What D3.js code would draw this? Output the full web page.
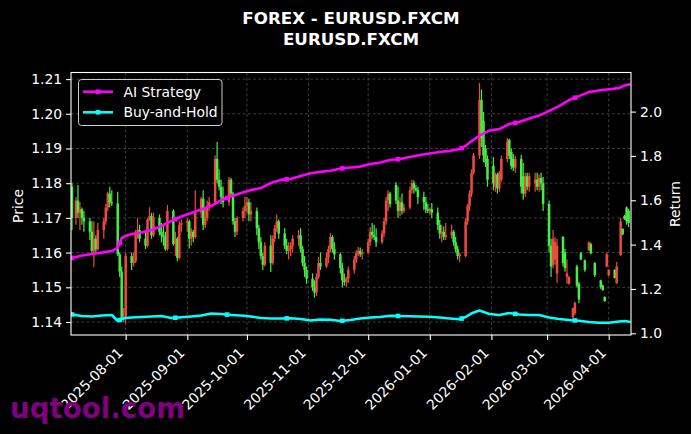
<!DOCTYPE html>
<html><head><meta charset="utf-8">
<script src="https://cdn.jsdelivr.net/npm/d3@7/dist/d3.min.js"></script>
<style>html,body{margin:0;padding:0;background:#000;}svg{display:block;}</style>
</head><body>
<svg id="c" width="691" height="434"></svg>
<script>
// ---------------- DATA ----------------
const titleLines = ["FOREX - EURUSD.FXCM", "EURUSD.FXCM"];
const seriesNames = ["AI Strategy", "Buy-and-Hold"];
const xTickLabels = ["2025-08-01","2025-09-01","2025-10-01","2025-11-01","2025-12-01","2026-01-01","2026-02-01","2026-03-01","2026-04-01"];
const priceTicks = [1.14,1.15,1.16,1.17,1.18,1.19,1.20,1.21];
const returnTicks = [1.0,1.2,1.4,1.6,1.8,2.0];

const candleDates = [
"2025-07-05",
"2025-07-07","2025-07-08","2025-07-09","2025-07-10","2025-07-11",
"2025-07-14","2025-07-15","2025-07-16","2025-07-17","2025-07-18",
"2025-07-21","2025-07-22","2025-07-23","2025-07-24","2025-07-25",
"2025-07-28","2025-07-29","2025-07-30","2025-07-31","2025-08-01",
"2025-08-04","2025-08-05","2025-08-06","2025-08-07","2025-08-08",
"2025-08-11","2025-08-12","2025-08-13","2025-08-14","2025-08-15",
"2025-08-18","2025-08-19","2025-08-20","2025-08-21","2025-08-22",
"2025-08-25","2025-08-26","2025-08-27","2025-08-28","2025-08-29",
"2025-09-01","2025-09-02","2025-09-03","2025-09-04","2025-09-05",
"2025-09-08","2025-09-09","2025-09-10","2025-09-11","2025-09-12",
"2025-09-15","2025-09-16","2025-09-17","2025-09-18","2025-09-19",
"2025-09-22","2025-09-23","2025-09-24","2025-09-25","2025-09-26",
"2025-09-29","2025-09-30","2025-10-01","2025-10-02","2025-10-03",
"2025-10-06","2025-10-07","2025-10-08","2025-10-09","2025-10-10",
"2025-10-13","2025-10-14","2025-10-15","2025-10-16","2025-10-17",
"2025-10-20","2025-10-21","2025-10-22","2025-10-23","2025-10-24",
"2025-10-27","2025-10-28","2025-10-29","2025-10-30","2025-10-31",
"2025-11-03","2025-11-04","2025-11-05","2025-11-06","2025-11-07",
"2025-11-10","2025-11-11","2025-11-12","2025-11-13","2025-11-14",
"2025-11-17","2025-11-18","2025-11-19","2025-11-20","2025-11-21",
"2025-11-24","2025-11-25","2025-11-26","2025-11-27","2025-11-28",
"2025-12-01","2025-12-02","2025-12-03","2025-12-04","2025-12-05",
"2025-12-08","2025-12-09","2025-12-10","2025-12-11","2025-12-12",
"2025-12-15","2025-12-16","2025-12-17","2025-12-18","2025-12-19",
"2025-12-22","2025-12-23","2025-12-24","2025-12-25","2025-12-26",
"2025-12-29","2025-12-30","2025-12-31","2026-01-01","2026-01-02",
"2026-01-05","2026-01-06","2026-01-07","2026-01-08","2026-01-09",
"2026-01-12","2026-01-13","2026-01-14","2026-01-15","2026-01-16",
"2026-01-19","2026-01-20","2026-01-21","2026-01-22","2026-01-23",
"2026-01-26","2026-01-27","2026-01-28","2026-01-29","2026-01-30",
"2026-02-02","2026-02-03","2026-02-04","2026-02-05","2026-02-06",
"2026-02-09","2026-02-10","2026-02-11","2026-02-12","2026-02-13",
"2026-02-16","2026-02-17","2026-02-18","2026-02-19","2026-02-20",
"2026-02-23","2026-02-24","2026-02-25","2026-02-26","2026-02-27",
"2026-03-02","2026-03-03","2026-03-04","2026-03-05","2026-03-06",
"2026-03-09","2026-03-10","2026-03-11","2026-03-12",
"2026-03-14","2026-03-15","2026-03-16","2026-03-17","2026-03-18","2026-03-20","2026-03-22",
"2026-03-23","2026-03-25","2026-03-28","2026-03-29","2026-03-30","2026-03-31","2026-04-01",
"2026-04-04","2026-04-05","2026-04-07","2026-04-08","2026-04-09","2026-04-10","2026-04-11"
];
const openP = [
1.1790,
1.1700,1.1750,1.1715,1.1725,1.1700,
1.1690,1.1660,1.1605,1.1640,1.1610,
1.1665,1.1690,1.1730,1.1770,1.1745,
1.1742,1.1595,1.1545,1.1410,1.1415,
1.1590,1.1570,1.1575,1.1660,1.1665,
1.1640,1.1620,1.1695,1.1705,1.1650,
1.1700,1.1660,1.1650,1.1645,1.1610,
1.1720,1.1625,1.1640,1.1585,1.1680,
1.1685,1.1690,1.1640,1.1660,1.1645,
1.1715,1.1755,1.1680,1.1700,1.1735,
1.1745,1.1870,1.1810,1.1790,1.1760,
1.1745,1.1810,1.1770,1.1690,1.1660,
1.1700,1.1720,1.1735,1.1745,1.1710,
1.1720,1.1670,1.1630,1.1590,1.1565,
1.1620,1.1570,1.1640,1.1670,1.1690,
1.1655,1.1620,1.1605,1.1610,1.1620,
1.1640,1.1650,1.1610,1.1570,1.1550,
1.1525,1.1500,1.1485,1.1530,1.1570,
1.1560,1.1585,1.1610,1.1645,1.1610,
1.1595,1.1555,1.1520,1.1515,1.1525,
1.1550,1.1580,1.1600,1.1605,1.1595,
1.1600,1.1630,1.1660,1.1650,1.1645,
1.1630,1.1655,1.1690,1.1750,1.1770,
1.1795,1.1750,1.1720,1.1745,1.1720,
1.1730,1.1780,1.1800,1.1785,1.1780,
1.1760,1.1745,1.1725,1.1720,1.1725,
1.1715,1.1680,1.1655,1.1660,1.1645,
1.1650,1.1660,1.1630,1.1610,1.1590,
1.1590,1.1690,1.1735,1.1770,1.1830,
1.1880,1.2040,1.1980,1.1900,1.1870,
1.1850,1.1790,1.1825,1.1785,1.1810,
1.1870,1.1925,1.1890,1.1870,1.1845,
1.1870,1.1820,1.1770,1.1820,1.1790,
1.1800,1.1810,1.1790,1.1815,1.1800,
1.1740,1.1620,1.1565,1.1580,1.1540,
1.1645,1.1600,1.1530,1.1510,
1.1414,1.1425,1.1560,1.1510,1.1598,1.1578,1.1607,
1.1625,1.1570,1.1520,1.1505,1.1472,1.1560,1.1535,
1.1550,1.1512,1.1593,1.1668,1.1706,1.1730,1.1720
];
const highP = [
1.1800,
1.1760,1.1795,1.1745,1.1730,1.1720,
1.1700,1.1690,1.1690,1.1650,1.1685,
1.1700,1.1740,1.1775,1.1790,1.1780,
1.1775,1.1600,1.1560,1.1440,1.1600,
1.1600,1.1600,1.1665,1.1700,1.1680,
1.1665,1.1700,1.1731,1.1715,1.1715,
1.1710,1.1685,1.1680,1.1660,1.1737,
1.1725,1.1660,1.1645,1.1690,1.1695,
1.1700,1.1695,1.1670,1.1665,1.1780,
1.1760,1.1780,1.1730,1.1750,1.1760,
1.1880,1.1919,1.1840,1.1810,1.1790,
1.1818,1.1815,1.1775,1.1700,1.1705,
1.1730,1.1760,1.1760,1.1755,1.1745,
1.1730,1.1680,1.1645,1.1600,1.1630,
1.1650,1.1650,1.1680,1.1710,1.1695,
1.1670,1.1640,1.1630,1.1630,1.1650,
1.1665,1.1670,1.1620,1.1590,1.1560,
1.1540,1.1520,1.1540,1.1587,1.1600,
1.1600,1.1620,1.1656,1.1650,1.1630,
1.1600,1.1570,1.1540,1.1530,1.1560,
1.1590,1.1607,1.1616,1.1615,1.1610,
1.1640,1.1674,1.1685,1.1680,1.1670,
1.1665,1.1700,1.1760,1.1780,1.1775,
1.1803,1.1790,1.1760,1.1770,1.1740,
1.1790,1.1810,1.1808,1.1795,1.1790,
1.1775,1.1760,1.1740,1.1730,1.1743,
1.1730,1.1694,1.1680,1.1675,1.1685,
1.1680,1.1665,1.1645,1.1620,1.1600,
1.1700,1.1740,1.1780,1.1840,1.1887,
1.2089,1.2070,1.2005,1.1910,1.1880,
1.1875,1.1830,1.1830,1.1835,1.1880,
1.1930,1.1928,1.1900,1.1885,1.1880,
1.1882,1.1858,1.1830,1.1830,1.1830,
1.1830,1.1830,1.1825,1.1830,1.1818,
1.1750,1.1640,1.1665,1.1645,1.1640,
1.1648,1.1610,1.1580,1.1532,
1.1442,1.1458,1.1565,1.1515,1.1602,1.1580,1.1632,
1.1628,1.1572,1.1522,1.1507,1.1474,1.1600,1.1552,
1.1552,1.1573,1.1700,1.1670,1.1708,1.1733,1.1725
];
const lowP = [
1.1665,
1.1680,1.1700,1.1665,1.1680,1.1660,
1.1636,1.1595,1.1558,1.1600,1.1605,
1.1640,1.1680,1.1720,1.1730,1.1735,
1.1590,1.1530,1.1400,1.1400,1.1395,
1.1550,1.1560,1.1570,1.1640,1.1630,
1.1610,1.1615,1.1690,1.1640,1.1645,
1.1650,1.1630,1.1620,1.1605,1.1605,
1.1620,1.1590,1.1575,1.1580,1.1660,
1.1660,1.1612,1.1620,1.1630,1.1640,
1.1700,1.1665,1.1670,1.1690,1.1720,
1.1740,1.1800,1.1780,1.1740,1.1730,
1.1735,1.1760,1.1680,1.1645,1.1650,
1.1690,1.1700,1.1715,1.1690,1.1690,
1.1650,1.1610,1.1580,1.1550,1.1560,
1.1544,1.1565,1.1630,1.1660,1.1640,
1.1610,1.1595,1.1580,1.1590,1.1600,
1.1620,1.1600,1.1560,1.1530,1.1510,
1.1490,1.1470,1.1475,1.1525,1.1550,
1.1555,1.1570,1.1600,1.1600,1.1580,
1.1540,1.1500,1.1505,1.1500,1.1512,
1.1540,1.1570,1.1590,1.1587,1.1580,
1.1595,1.1620,1.1640,1.1636,1.1616,
1.1625,1.1645,1.1680,1.1720,1.1730,
1.1740,1.1700,1.1705,1.1710,1.1714,
1.1725,1.1770,1.1770,1.1775,1.1740,
1.1723,1.1714,1.1714,1.1710,1.1700,
1.1665,1.1640,1.1630,1.1636,1.1636,
1.1640,1.1620,1.1600,1.1580,1.1573,
1.1587,1.1680,1.1720,1.1760,1.1825,
1.1870,1.1904,1.1860,1.1847,1.1790,
1.1780,1.1775,1.1770,1.1775,1.1805,
1.1860,1.1870,1.1840,1.1835,1.1830,
1.1770,1.1752,1.1760,1.1780,1.1775,
1.1775,1.1780,1.1775,1.1780,1.1720,
1.1600,1.1530,1.1555,1.1565,1.1512,
1.1560,1.1545,1.1510,1.1508,
1.1410,1.1420,1.1500,1.1455,1.1578,1.1545,1.1605,
1.1595,1.1530,1.1495,1.1490,1.1458,1.1558,1.1532,
1.1525,1.1510,1.1590,1.1650,1.1694,1.1680,1.1674
];
const closeP = [
1.1700,
1.1750,1.1715,1.1725,1.1700,1.1690,
1.1660,1.1605,1.1640,1.1610,1.1665,
1.1690,1.1730,1.1770,1.1745,1.1742,
1.1595,1.1545,1.1410,1.1415,1.1590,
1.1570,1.1575,1.1660,1.1665,1.1640,
1.1620,1.1695,1.1705,1.1650,1.1700,
1.1660,1.1650,1.1645,1.1610,1.1720,
1.1625,1.1640,1.1585,1.1680,1.1685,
1.1690,1.1640,1.1660,1.1645,1.1715,
1.1755,1.1680,1.1700,1.1735,1.1745,
1.1870,1.1810,1.1790,1.1760,1.1745,
1.1810,1.1770,1.1690,1.1660,1.1700,
1.1720,1.1735,1.1745,1.1710,1.1720,
1.1670,1.1630,1.1590,1.1565,1.1620,
1.1570,1.1640,1.1670,1.1690,1.1655,
1.1620,1.1605,1.1610,1.1620,1.1640,
1.1650,1.1610,1.1570,1.1550,1.1525,
1.1500,1.1485,1.1530,1.1570,1.1560,
1.1585,1.1610,1.1645,1.1610,1.1595,
1.1555,1.1520,1.1515,1.1525,1.1550,
1.1580,1.1600,1.1605,1.1595,1.1600,
1.1630,1.1660,1.1650,1.1645,1.1630,
1.1655,1.1690,1.1750,1.1770,1.1740,
1.1750,1.1720,1.1745,1.1720,1.1730,
1.1780,1.1800,1.1785,1.1780,1.1760,
1.1745,1.1725,1.1720,1.1725,1.1715,
1.1680,1.1655,1.1660,1.1645,1.1650,
1.1660,1.1630,1.1610,1.1590,1.1595,
1.1690,1.1735,1.1770,1.1830,1.1880,
1.2040,1.1930,1.1880,1.1860,1.1810,
1.1800,1.1825,1.1785,1.1830,1.1870,
1.1920,1.1880,1.1850,1.1845,1.1870,
1.1790,1.1770,1.1820,1.1790,1.1820,
1.1810,1.1790,1.1815,1.1800,1.1740,
1.1620,1.1560,1.1640,1.1630,1.1620,
1.1570,1.1555,1.1540,1.1530,
1.1440,1.1455,1.1505,1.1465,1.1580,1.1550,1.1630,
1.1598,1.1535,1.1500,1.1492,1.1460,1.1595,1.1550,
1.1527,1.1560,1.1690,1.1653,1.1696,1.1690,1.1685
];

const lineDates = [
"2025-07-05","2025-07-10","2025-07-15","2025-07-20","2025-07-25","2025-07-28","2025-07-30","2025-08-01",
"2025-08-04","2025-08-09","2025-08-14","2025-08-19","2025-08-24","2025-08-29","2025-09-03","2025-09-08",
"2025-09-13","2025-09-18","2025-09-23","2025-09-28","2025-10-03","2025-10-08","2025-10-13","2025-10-18",
"2025-10-23","2025-10-28","2025-11-02","2025-11-07","2025-11-12","2025-11-17","2025-11-22","2025-11-27",
"2025-12-02","2025-12-07","2025-12-12","2025-12-17","2025-12-22","2025-12-27","2026-01-01","2026-01-06",
"2026-01-11","2026-01-16","2026-01-19","2026-01-22","2026-01-26","2026-01-31","2026-02-05","2026-02-10",
"2026-02-15","2026-02-20","2026-02-25","2026-03-02","2026-03-07","2026-03-12","2026-03-17","2026-03-22",
"2026-03-27","2026-04-01","2026-04-06","2026-04-09","2026-04-12"
];
const aiReturn = [
1.340,1.351,1.358,1.364,1.371,1.385,1.430,1.439,
1.448,1.455,1.466,1.484,1.507,1.527,1.543,1.558,
1.574,1.601,1.617,1.633,1.646,1.655,1.678,1.692,
1.696,1.710,1.722,1.728,1.733,1.743,1.748,1.752,
1.764,1.770,1.782,1.786,1.795,1.804,1.811,1.818,
1.823,1.831,1.845,1.867,1.892,1.915,1.921,1.944,
1.953,1.969,1.982,2.003,2.025,2.052,2.070,2.088,
2.095,2.101,2.106,2.118,2.124
];
const bhReturn = [
1.0848,1.0780,1.0758,1.0803,1.0825,1.0555,1.0645,1.0690,
1.0713,1.0735,1.0758,1.0780,1.0690,1.0722,1.0758,1.0803,
1.0893,1.0871,1.0825,1.0803,1.0758,1.0690,1.0668,1.0668,
1.0677,1.0645,1.0577,1.0622,1.0609,1.0555,1.0600,1.0668,
1.0713,1.0735,1.0789,1.0780,1.0767,1.0758,1.0749,1.0713,
1.0668,1.0631,1.0735,1.0902,1.1028,1.0871,1.0825,1.0916,
1.0848,1.0825,1.0825,1.0713,1.0645,1.0600,1.0568,1.0510,
1.0478,1.0478,1.0532,1.0555,1.0510
];
const markerDates = ["2025-07-05","2025-07-29","2025-08-26","2025-09-21","2025-10-21","2025-11-18","2025-12-16","2026-01-17","2026-02-13","2026-03-15"];
const watermark = "uqtool.com";

// ---------------- CHART ----------------
const W = 691, H = 434;
const L = 71, R = 631, T = 72.5, B = 335;
const font = "DejaVu Sans, Verdana, sans-serif";
const parse = d3.timeParse("%Y-%m-%d");
const fmt = d3.timeFormat("%Y-%m-%d");
const upColor = "#f04a3f", downColor = "#45ee45";
const aiColor = "#ff00ff", bhColor = "#00ffff";

const svg = d3.select("#c");
svg.append("rect").attr("width", W).attr("height", H).attr("fill", "#000");

const x = d3.scaleTime()
  .domain([new Date(2025, 6, 4, 12), new Date(2026, 3, 12, 5)])
  .range([L, R]);
const yP = d3.scaleLinear().domain([1.13625, 1.2119]).range([B, T]);
const yR = d3.scaleLinear().domain([0.99233, 2.1764]).range([B, T]);

svg.append("defs").append("clipPath").attr("id", "clip")
  .append("rect").attr("x", L).attr("y", T).attr("width", R - L).attr("height", B - T);

// grid
const xTicks = xTickLabels.map(parse);
const grid = svg.append("g").attr("stroke", "#4a4a4a").attr("stroke-width", 0.8).attr("stroke-dasharray", "3,2.2");
grid.selectAll("line.gx").data(xTicks).join("line").attr("class", "gx")
  .attr("x1", d => x(d)).attr("x2", d => x(d)).attr("y1", T).attr("y2", B);
grid.selectAll("line.gy").data(priceTicks).join("line").attr("class", "gy")
  .attr("x1", L).attr("x2", R).attr("y1", d => yP(d)).attr("y2", d => yP(d));

// candles
const candles = candleDates.map((d, i) => ({ t: parse(d), o: openP[i], h: highP[i], l: lowP[i], c: closeP[i] }));
const cg = svg.append("g").attr("clip-path", "url(#clip)");
cg.selectAll("line.wick").data(candles).join("line").attr("class", "wick")
  .attr("x1", d => x(d.t)).attr("x2", d => x(d.t))
  .attr("y1", d => yP(d.h)).attr("y2", d => yP(d.l))
  .attr("stroke", d => d.c >= d.o ? upColor : downColor).attr("stroke-width", 1.2);
cg.selectAll("rect.body").data(candles).join("rect").attr("class", "body")
  .attr("x", d => x(d.t) - 1.25)
  .attr("width", 2.5)
  .attr("y", d => yP(Math.max(d.o, d.c)))
  .attr("height", d => Math.max(1, Math.abs(yP(d.o) - yP(d.c))))
  .attr("fill", d => d.c >= d.o ? upColor : downColor);

// lines
const lt = lineDates.map(parse);
const aiPts = lt.map((t, i) => ({ t, v: aiReturn[i] }));
const bhPts = lt.map((t, i) => ({ t, v: bhReturn[i] }));
const line = d3.line().x(d => x(d.t)).y(d => yR(d.v));
const lg = svg.append("g").attr("clip-path", "url(#clip)");
function interp(pts, t) {
  const i = d3.bisector(d => d.t).left(pts, t);
  if (i <= 0) return pts[0].v;
  if (i >= pts.length) return pts[pts.length - 1].v;
  const a = pts[i - 1], b = pts[i];
  const f = (t - a.t) / (b.t - a.t);
  return a.v + (b.v - a.v) * f;
}
const ms = 4.6;
[[bhPts, bhColor], [aiPts, aiColor]].forEach(([pts, col]) => {
  lg.append("path").datum(pts).attr("d", line).attr("fill", "none")
    .attr("stroke", col).attr("stroke-width", 2.6).attr("stroke-linejoin", "round");
  lg.selectAll(null).data(markerDates.map(parse)).join("rect")
    .attr("x", d => x(d) - ms / 2).attr("y", d => yR(interp(pts, d)) - ms / 2)
    .attr("width", ms).attr("height", ms).attr("fill", col);
});

// spines
svg.append("rect").attr("x", L).attr("y", T).attr("width", R - L).attr("height", B - T)
  .attr("fill", "none").attr("stroke", "#fff").attr("stroke-width", 1.1);

// axes
function styleAxis(g) {
  g.select(".domain").remove();
  g.selectAll(".tick line").attr("stroke", "#fff").attr("stroke-width", 1.1);
  g.selectAll(".tick text").attr("fill", "#fff").attr("font-family", font).attr("font-size", "13.9px");
}
svg.append("g").attr("transform", `translate(${L},0)`)
  .call(d3.axisLeft(yP).tickValues(priceTicks).tickFormat(d3.format(".2f")).tickSize(4.9).tickPadding(4))
  .call(styleAxis);
svg.append("g").attr("transform", `translate(${R},0)`)
  .call(d3.axisRight(yR).tickValues(returnTicks).tickFormat(d3.format(".1f")).tickSize(4.9).tickPadding(4))
  .call(styleAxis);
const xa = svg.append("g").attr("transform", `translate(0,${B})`)
  .call(d3.axisBottom(x).tickValues(xTicks).tickFormat(fmt).tickSize(4.9))
  .call(styleAxis);
xa.selectAll(".tick text")
  .attr("text-anchor", "end").attr("dy", null).attr("y", null)
  .attr("transform", "translate(-2.3,18.7) rotate(-45)");

// axis labels
svg.append("text").attr("transform", "translate(23,206) rotate(-90)").attr("text-anchor", "middle")
  .attr("fill", "#fff").attr("font-family", font).attr("font-size", "13.9px").text("Price");
svg.append("text").attr("transform", "translate(680,204) rotate(-90)").attr("text-anchor", "middle")
  .attr("fill", "#fff").attr("font-family", font).attr("font-size", "13.9px").text("Return");

// title
titleLines.forEach((s, i) => {
  svg.append("text").attr("x", (L + R) / 2).attr("y", 24 + i * 21).attr("text-anchor", "middle")
    .attr("fill", "#fff").attr("font-family", font).attr("font-weight", "bold").attr("font-size", "16.7px").text(s);
});

// legend
const leg = svg.append("g");
leg.append("rect").attr("x", 78.5).attr("y", 79.5).attr("width", 143.5).attr("height", 46).attr("rx", 3)
  .attr("fill", "#000").attr("fill-opacity", 0.8).attr("stroke", "#cccccc").attr("stroke-width", 1);
[[aiColor, 91.7], [bhColor, 112.3]].forEach(([col, yy], i) => {
  leg.append("line").attr("x1", 83).attr("x2", 113).attr("y1", yy).attr("y2", yy)
    .attr("stroke", col).attr("stroke-width", 2.6);
  leg.append("rect").attr("x", 98 - ms / 2).attr("y", yy - ms / 2).attr("width", ms).attr("height", ms).attr("fill", col);
  leg.append("text").attr("x", 123.5).attr("y", yy + 5).attr("fill", "#fff")
    .attr("font-family", font).attr("font-size", "13.9px").text(seriesNames[i]);
});

// watermark
svg.append("text").attr("x", 10).attr("y", 418).attr("fill", "#800080")
  .attr("font-family", font).attr("font-weight", "bold").attr("font-size", "27.7px").text(watermark);
</script>
</body></html>
